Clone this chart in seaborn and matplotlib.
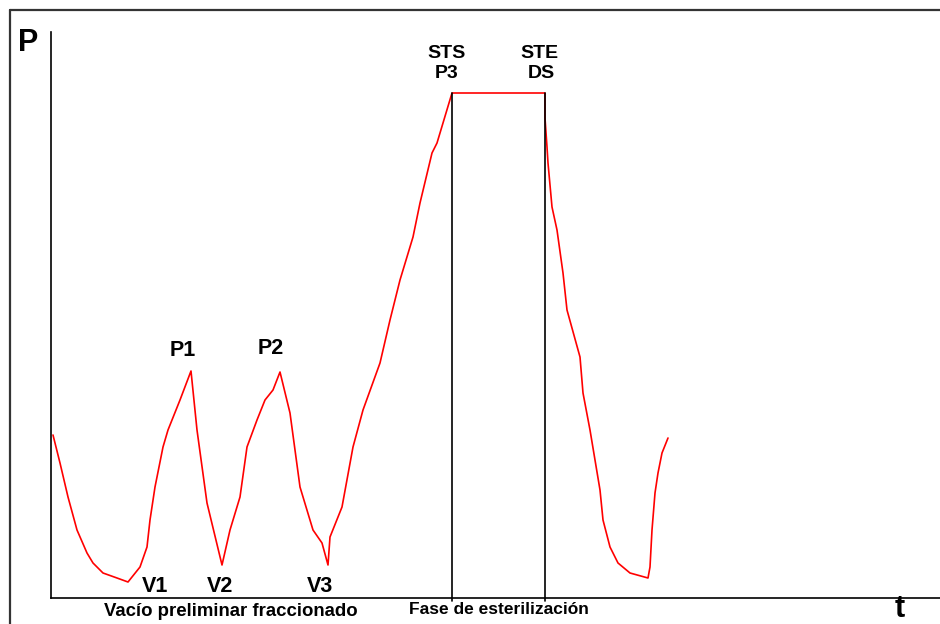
import numpy as np
import pandas as pd
import seaborn as sns
import matplotlib.pyplot as plt
from matplotlib.lines import Line2D

# time (arbitrary units) and pressure (arbitrary units)
time = [2, 9, 17, 26, 36, 42, 52, 66, 77, 89,
        96, 99, 104, 112, 117, 129, 140, 146, 156, 171,
        179, 189, 196, 206, 214, 222, 229, 239, 249, 262,
        271, 277, 279, 291, 302, 312, 329, 339, 349, 362,
        369, 381, 386, 401, 494, 494, 496, 497, 501, 506,
        512, 516, 529, 532, 539, 549, 552, 559, 567, 579,
        597, 599, 601, 604, 607, 611, 617]
pressure = [163, 135, 101, 68, 45, 35, 25, 20, 16, 31,
            51, 78, 111, 151, 168, 198, 227, 168, 95, 33,
            68, 101, 151, 178, 198, 208, 226, 185, 111, 68,
            55, 33, 61, 91, 151, 188, 235, 278, 318, 361,
            395, 445, 455, 505, 505, 480, 451, 435, 391, 368,
            325, 288, 241, 205, 168, 108, 78, 51, 35, 25,
            20, 31, 68, 105, 125, 145, 160]

# phase markers (start / end of sterilization)
phase_times = [401, 494]
phase_top = 505

peak_labels = ['P1', 'P2', 'V1', 'V2', 'V3']
peak_t = [132, 220, 104, 169, 269]
peak_p = [247, 249, 12, 12, 12]

df = pd.DataFrame({'t': time, 'P': pressure})

sns.set_style('white')
plt.rcParams['font.family'] = ['Liberation Sans', 'DejaVu Sans']

fig = plt.figure(figsize=(9.4, 6.24), dpi=100)
ax = fig.add_axes([51 / 940, 26 / 624, 889 / 940, 566 / 624])

sns.lineplot(data=df, x='t', y='P', sort=False, estimator=None,
             color='red', linewidth=1.2, ax=ax)

for pt in phase_times:
    ax.plot([pt, pt], [-3, phase_top], color='black', lw=1.2, zorder=3,
            clip_on=False)

ax.set_xlim(0, 889)
ax.set_ylim(0, 566)
ax.set_xticks([])
ax.set_yticks([])
ax.set_xlabel('')
ax.set_ylabel('')
for side in ['top', 'right']:
    ax.spines[side].set_visible(False)
for side in ['left', 'bottom']:
    ax.spines[side].set_color('black')
    ax.spines[side].set_linewidth(1.2)

bold = dict(fontweight='bold', ha='center', va='center', color='black',
            clip_on=False)
for lab, tx, py in zip(peak_labels, peak_t, peak_p):
    ax.text(tx, py, lab, fontsize=15.5, **bold)
ax.text(395, 545, 'STS', fontsize=14, **bold)
ax.text(396, 525, 'P3', fontsize=14, **bold)
ax.text(488, 545, 'STE', fontsize=14, **bold)
ax.text(490, 525, 'DS', fontsize=14, **bold)
ax.text(180, -14, 'Vacío preliminar fraccionado', fontsize=13.4, **bold)
ax.text(448, -12, 'Fase de esterilización', fontsize=12.5, **bold)
ax.text(-23, 555, 'P', fontsize=22, **bold)
ax.text(849, -11, 't', fontsize=22, **bold)

# outer frame of the original figure
fig.add_artist(Line2D([9.5 / 940, 9.5 / 940], [0, 1 - 10 / 624],
                      transform=fig.transFigure, color='#333333', lw=1.6))
fig.add_artist(Line2D([9.5 / 940, 1], [1 - 10 / 624, 1 - 10 / 624],
                      transform=fig.transFigure, color='#333333', lw=1.6))

fig.savefig('out.png', dpi=100)
